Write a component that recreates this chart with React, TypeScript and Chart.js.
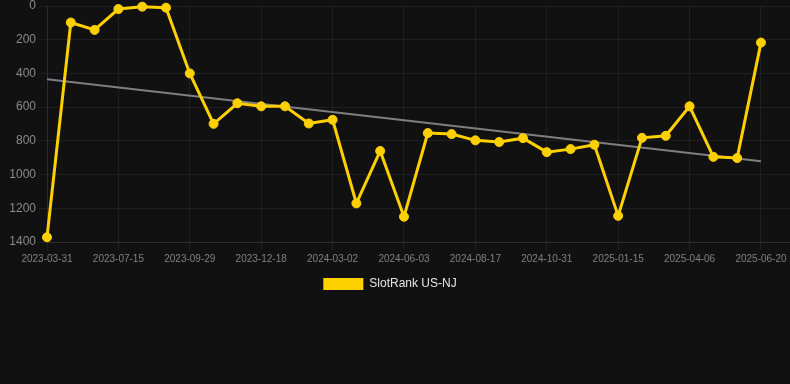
import React, { useEffect, useRef } from "react";
import { Chart, registerables } from "chart.js";

Chart.register(...registerables);

const dates: string[] = [
  "2023-03-31", "2023-05-05", "2023-06-09", "2023-07-15", "2023-08-09", "2023-09-03",
  "2023-09-29", "2023-10-25", "2023-11-21", "2023-12-18", "2024-01-13", "2024-02-07",
  "2024-03-02", "2024-04-03", "2024-05-03", "2024-06-03", "2024-06-28", "2024-07-23",
  "2024-08-17", "2024-09-10", "2024-10-06", "2024-10-31", "2024-11-25", "2024-12-20",
  "2025-01-15", "2025-02-10", "2025-03-09", "2025-04-06", "2025-04-30", "2025-05-25",
  "2025-06-20",
];

const rankValues: number[] = [
  1372, 98, 142, 18, 4, 10, 400, 699, 577, 595, 595, 697,
  675, 1171, 860, 1250, 754, 760, 797, 807, 784, 867, 849, 823,
  1245, 782, 770, 595, 895, 902, 217,
];

const trendStart = 435;
const trendEnd = 921;

const seriesLabel = "SlotRank US-NJ";
const yTicks: number[] = [0, 200, 400, 600, 800, 1000, 1200, 1400];

const legendShift = {
  id: "legendShift",
  afterLayout(chart: any) {
    const l = chart.legend;
    if (l) {
      l.left -= 5;
      l.right -= 5;
    }
  },
};

export default function App() {
  const ref = useRef<HTMLCanvasElement | null>(null);

  useEffect(() => {
    document.body.style.margin = "0";
    document.body.style.background = "#111111";
    if (!ref.current) return;
    Chart.defaults.font.family = 'Arial, "Liberation Sans", Helvetica, sans-serif';

    const last = dates.length - 1;
    const points = rankValues.map((y, i) => ({ x: i, y }));
    const trendPoints = [
      { x: 0, y: trendStart },
      { x: last, y: trendEnd },
    ];

    const chart = new Chart(ref.current, {
      type: "line",
      data: {
        datasets: [
          {
            label: seriesLabel,
            data: points,
            borderColor: "#FFD000",
            backgroundColor: "#FFD000",
            pointBackgroundColor: "#FFD000",
            pointBorderColor: "#FFD000",
            borderWidth: 3,
            pointRadius: 4.5,
            pointBorderWidth: 1,
            pointHoverRadius: 4.5,
            tension: 0,
            clip: false,
          },
          {
            label: "trend",
            data: trendPoints,
            borderColor: "rgba(140,140,140,0.9)",
            borderWidth: 2,
            pointRadius: 0,
            tension: 0,
          },
        ],
      },
      plugins: [legendShift],
      options: {
        animation: false,
        responsive: true,
        maintainAspectRatio: false,
        parsing: false,
        layout: { padding: 0, autoPadding: false },
        scales: {
          x: {
            type: "linear",
            min: 0,
            max: last + 1.22,
            grid: { color: "rgba(255,255,255,0.06)", tickLength: 8 },
            border: { color: "rgba(255,255,255,0.08)" },
            afterBuildTicks: (axis: any) => {
              axis.ticks = dates
                .map((_, i) => i)
                .filter((i) => i % 3 === 0)
                .map((v) => ({ value: v }));
            },
            afterFit: (axis: any) => {
              axis.paddingRight = 0;
              axis.paddingLeft = 0;
            },
            ticks: {
              autoSkip: false,
              maxRotation: 0,
              color: "#808080",
              font: { size: 10 },
              callback: (v: any) => dates[Number(v)] ?? "",
            },
          },
          y: {
            reverse: true,
            min: 0,
            max: 1400,
            afterBuildTicks: (axis: any) => {
              axis.ticks = yTicks.map((v) => ({ value: v }));
            },
            afterFit: (axis: any) => {
              axis.width = 47;
              axis.paddingTop = 6;
              axis.paddingBottom = 0;
            },
            grid: { color: "rgba(255,255,255,0.06)", tickLength: 8 },
            border: { color: "rgba(255,255,255,0.06)" },
            ticks: {
              color: "#8a8a8a",
              font: { size: 12 },
              callback: (v: any) => String(v),
            },
          },
        },
        plugins: {
          legend: {
            position: "bottom",
            labels: {
              color: "#e6e6e6",
              boxWidth: 40,
              boxHeight: 12,
              font: { size: 12 },
              filter: (item: any) => item.text === seriesLabel,
              generateLabels: (c: any) =>
                Chart.defaults.plugins.legend.labels
                  .generateLabels(c)
                  .map((it: any) => ({ ...it, lineWidth: 0 })),
            },
          },
          tooltip: { enabled: false },
        },
      },
    });
    return () => chart.destroy();
  }, []);

  return (
    <div style={{ width: "790px", height: "300px", background: "#111111" }}>
      <canvas ref={ref} />
    </div>
  );
}
